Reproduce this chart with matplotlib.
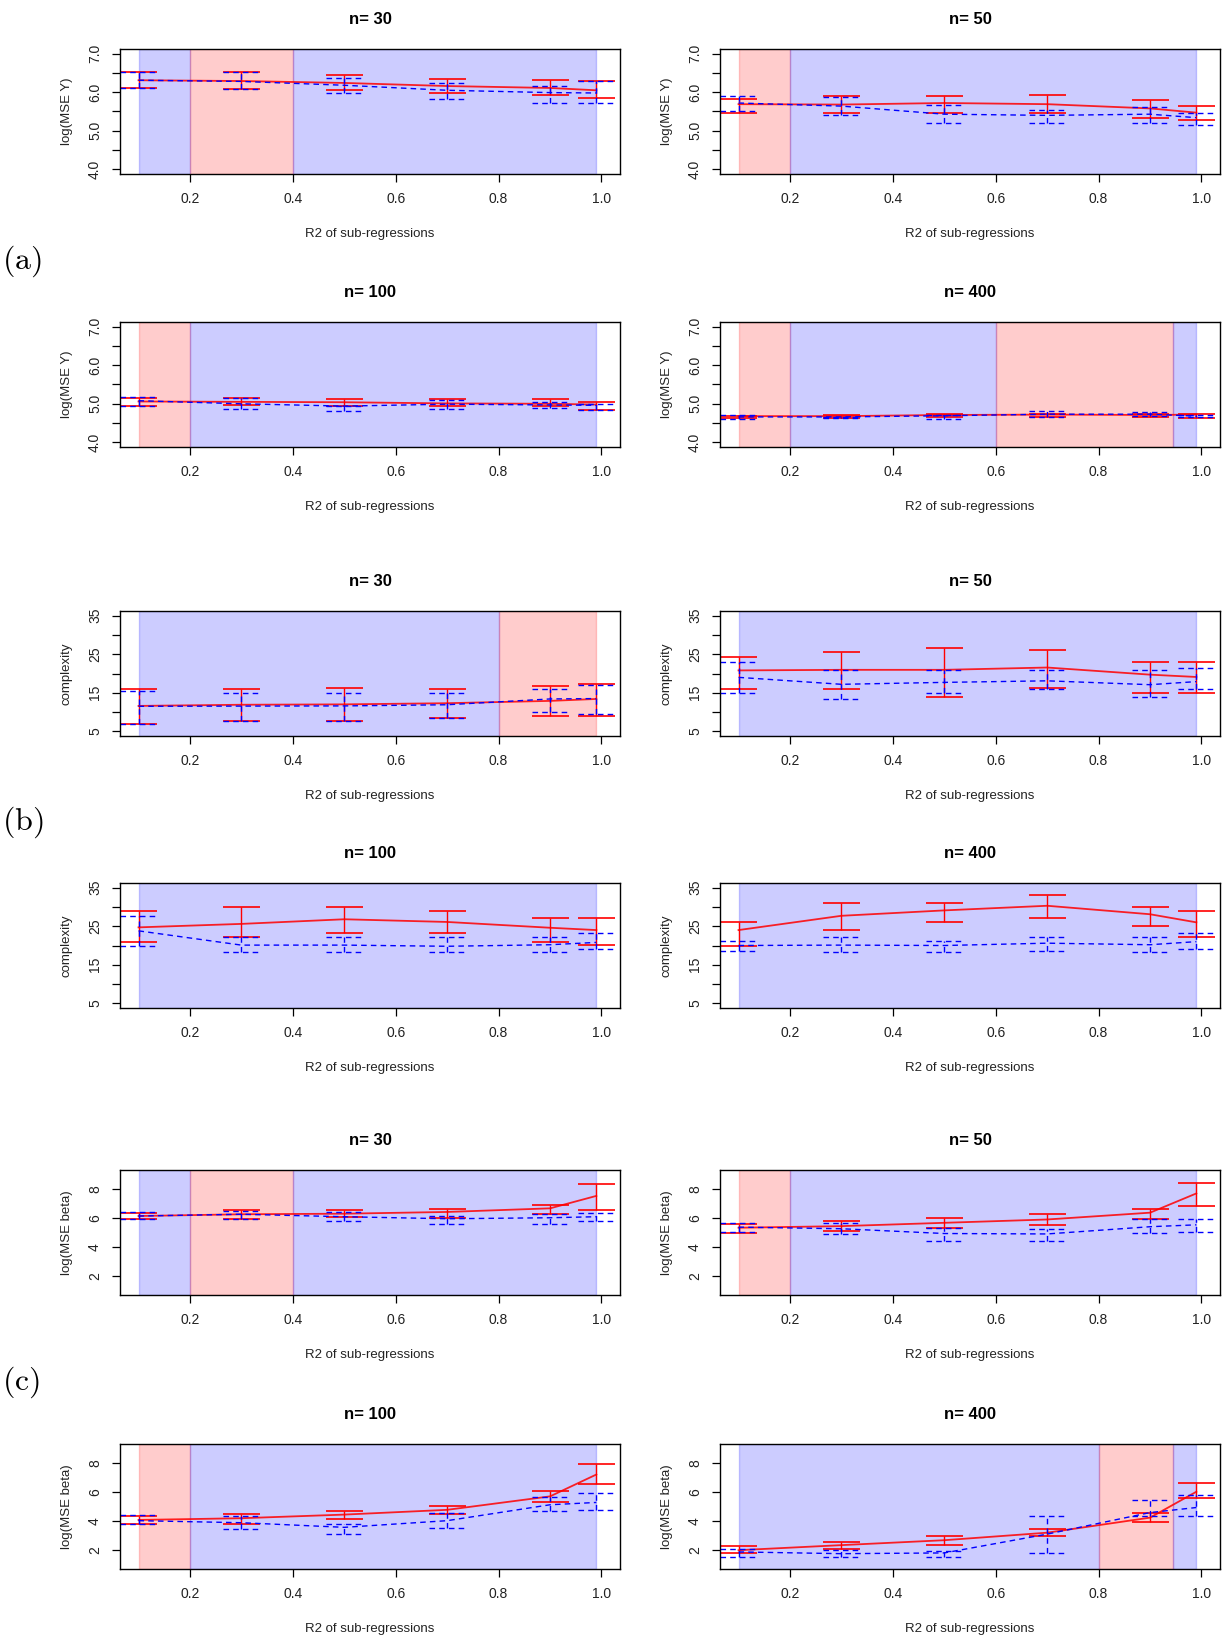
import matplotlib
matplotlib.use("Agg")
import matplotlib.pyplot as plt

plt.rcParams['font.family'] = ['Liberation Sans', 'DejaVu Sans']
plt.rcParams['mathtext.fontset'] = 'cm'

# R2 of sub-regressions where the simulations were run
r2 = [0.1, 0.3, 0.5, 0.7, 0.9, 0.99]
xticks = [0.2, 0.4, 0.6, 0.8, 1.0]
xlabels = ["0.2", "0.4", "0.6", "0.8", "1.0"]

# ---- (a) log(MSE Y) ----
a30_red = [6.31, 6.29, 6.24, 6.16, 6.11, 6.05]
a30_red_lo = [6.10, 6.09, 6.05, 5.97, 5.92, 5.84]
a30_red_hi = [6.53, 6.53, 6.45, 6.34, 6.31, 6.29]
a30_blue = [6.31, 6.28, 6.18, 6.05, 5.99, 5.98]
a30_blue_lo = [6.10, 6.09, 5.97, 5.82, 5.71, 5.73]
a30_blue_hi = [6.53, 6.53, 6.38, 6.25, 6.17, 6.28]
a30_shade = [(0.1, 0.2, "b"), (0.2, 0.4, "r"), (0.4, 0.99, "b")]

a50_red = [5.69, 5.68, 5.72, 5.69, 5.58, 5.47]
a50_red_lo = [5.47, 5.47, 5.47, 5.47, 5.33, 5.28]
a50_red_hi = [5.82, 5.90, 5.90, 5.93, 5.80, 5.64]
a50_blue = [5.72, 5.64, 5.43, 5.40, 5.43, 5.34]
a50_blue_lo = [5.50, 5.40, 5.19, 5.19, 5.19, 5.14]
a50_blue_hi = [5.91, 5.87, 5.66, 5.53, 5.61, 5.45]
a50_shade = [(0.1, 0.2, "r"), (0.2, 0.99, "b")]

a100_red = [5.06, 5.05, 5.04, 5.01, 5.00, 4.98]
a100_red_lo = [4.94, 4.97, 4.94, 4.94, 4.94, 4.85]
a100_red_hi = [5.16, 5.15, 5.13, 5.12, 5.13, 5.05]
a100_blue = [5.08, 5.00, 4.94, 4.99, 4.97, 4.96]
a100_blue_lo = [4.94, 4.87, 4.81, 4.87, 4.88, 4.85]
a100_blue_hi = [5.18, 5.15, 4.94, 5.11, 5.04, 4.99]
a100_shade = [(0.1, 0.2, "r"), (0.2, 0.99, "b")]

a400_red = [4.68, 4.68, 4.71, 4.72, 4.71, 4.72]
a400_red_lo = [4.62, 4.63, 4.66, 4.65, 4.65, 4.64]
a400_red_hi = [4.69, 4.70, 4.74, 4.74, 4.74, 4.73]
a400_blue = [4.66, 4.66, 4.69, 4.73, 4.73, 4.68]
a400_blue_lo = [4.61, 4.62, 4.61, 4.67, 4.68, 4.65]
a400_blue_hi = [4.71, 4.67, 4.70, 4.81, 4.79, 4.70]
a400_shade = [(0.1, 0.2, "r"), (0.2, 0.6, "b"), (0.6, 0.945, "r"), (0.945, 0.99, "b")]

# ---- (b) complexity ----
b30_red = [11.6, 11.9, 12.0, 12.3, 12.9, 13.4]
b30_red_lo = [6.8, 7.8, 7.8, 8.45, 8.9, 8.9]
b30_red_hi = [15.95, 15.95, 16.2, 15.95, 16.7, 17.2]
b30_blue = [11.5, 11.55, 11.6, 11.9, 13.4, 13.5]
b30_blue_lo = [6.8, 7.8, 7.8, 8.45, 10.0, 9.5]
b30_blue_hi = [15.5, 15.0, 15.0, 15.0, 16.0, 16.9]
b30_shade = [(0.1, 0.8, "b"), (0.8, 0.99, "r")]

b50_red = [20.8, 20.95, 20.95, 21.55, 19.7, 19.1]
b50_red_lo = [16.0, 16.0, 13.9, 16.2, 14.9, 14.9]
b50_red_hi = [24.4, 25.7, 26.7, 26.2, 22.9, 22.9]
b50_blue = [19.0, 17.2, 17.7, 18.1, 17.1, 17.9]
b50_blue_lo = [14.9, 13.4, 14.9, 15.95, 13.9, 16.0]
b50_blue_hi = [22.9, 20.95, 20.95, 20.95, 20.95, 21.3]
b50_shade = [(0.1, 0.99, "b")]

b100_red = [24.7, 25.6, 26.8, 26.1, 24.6, 24.0]
b100_red_lo = [21.0, 22.15, 23.2, 23.2, 21.0, 20.1]
b100_red_hi = [29.0, 30.0, 30.0, 29.0, 27.1, 27.1]
b100_blue = [23.8, 20.1, 20.1, 19.8, 20.2, 20.8]
b100_blue_lo = [20.0, 18.2, 18.2, 18.2, 18.2, 19.05]
b100_blue_hi = [27.7, 22.15, 22.15, 22.15, 22.15, 23.2]
b100_shade = [(0.1, 0.99, "b")]

b400_red = [24.0, 27.7, 29.1, 30.3, 28.1, 26.0]
b400_red_lo = [20.0, 24.0, 26.1, 27.1, 25.1, 22.15]
b400_red_hi = [26.1, 31.1, 31.1, 33.1, 30.1, 29.0]
b400_blue = [20.0, 20.1, 20.0, 20.6, 20.2, 21.0]
b400_blue_lo = [18.6, 18.2, 18.2, 18.6, 18.2, 19.05]
b400_blue_hi = [21.1, 22.15, 21.1, 22.15, 22.15, 23.2]
b400_shade = [(0.1, 0.99, "b")]

# ---- (c) log(MSE beta) ----
c30_red = [6.14, 6.26, 6.30, 6.42, 6.67, 7.53]
c30_red_lo = [5.95, 5.95, 6.05, 6.02, 6.30, 6.53]
c30_red_hi = [6.37, 6.53, 6.53, 6.60, 6.93, 8.35]
c30_blue = [6.14, 6.26, 6.09, 5.95, 6.02, 6.09]
c30_blue_lo = [5.95, 5.95, 5.79, 5.60, 5.60, 5.79]
c30_blue_hi = [6.42, 6.49, 6.40, 6.14, 6.30, 6.37]
c30_shade = [(0.1, 0.2, "b"), (0.2, 0.4, "r"), (0.4, 0.99, "b")]

c50_red = [5.33, 5.44, 5.67, 5.90, 6.37, 7.70]
c50_red_lo = [4.95, 5.09, 5.33, 5.53, 5.95, 6.81]
c50_red_hi = [5.60, 5.79, 6.02, 6.30, 6.60, 8.44]
c50_blue = [5.37, 5.26, 4.93, 4.90, 5.40, 5.53]
c50_blue_lo = [5.05, 4.88, 4.40, 4.44, 4.95, 5.05]
c50_blue_hi = [5.65, 5.67, 5.33, 5.26, 5.95, 5.95]
c50_shade = [(0.1, 0.2, "r"), (0.2, 0.99, "b")]

c100_red = [4.07, 4.19, 4.44, 4.77, 5.70, 7.21]
c100_red_lo = [3.77, 3.81, 4.14, 4.49, 5.33, 6.56]
c100_red_hi = [4.37, 4.49, 4.70, 5.05, 6.07, 7.95]
c100_blue = [4.02, 3.88, 3.56, 4.02, 5.12, 5.28]
c100_blue_lo = [3.77, 3.42, 3.07, 3.49, 4.67, 4.74]
c100_blue_hi = [4.42, 4.35, 3.77, 4.58, 5.65, 5.91]
c100_shade = [(0.1, 0.2, "r"), (0.2, 0.99, "b")]

c400_red = [1.98, 2.33, 2.67, 3.19, 4.23, 6.02]
c400_red_lo = [1.79, 2.05, 2.37, 2.93, 3.91, 5.56]
c400_red_hi = [2.28, 2.56, 2.93, 3.47, 4.58, 6.60]
c400_blue = [1.86, 1.74, 1.79, 3.09, 4.58, 4.93]
c400_blue_lo = [1.51, 1.51, 1.51, 1.79, 4.35, 4.35]
c400_blue_hi = [2.09, 1.98, 1.91, 4.35, 5.42, 5.79]
c400_shade = [(0.1, 0.8, "b"), (0.8, 0.945, "r"), (0.945, 0.99, "b")]

panels = [
    ("n= 30", "log(MSE Y)", "a", a30_red, a30_red_lo, a30_red_hi, a30_blue, a30_blue_lo, a30_blue_hi, a30_shade),
    ("n= 50", "log(MSE Y)", "a", a50_red, a50_red_lo, a50_red_hi, a50_blue, a50_blue_lo, a50_blue_hi, a50_shade),
    ("n= 100", "log(MSE Y)", "a", a100_red, a100_red_lo, a100_red_hi, a100_blue, a100_blue_lo, a100_blue_hi, a100_shade),
    ("n= 400", "log(MSE Y)", "a", a400_red, a400_red_lo, a400_red_hi, a400_blue, a400_blue_lo, a400_blue_hi, a400_shade),
    ("n= 30", "complexity", "b", b30_red, b30_red_lo, b30_red_hi, b30_blue, b30_blue_lo, b30_blue_hi, b30_shade),
    ("n= 50", "complexity", "b", b50_red, b50_red_lo, b50_red_hi, b50_blue, b50_blue_lo, b50_blue_hi, b50_shade),
    ("n= 100", "complexity", "b", b100_red, b100_red_lo, b100_red_hi, b100_blue, b100_blue_lo, b100_blue_hi, b100_shade),
    ("n= 400", "complexity", "b", b400_red, b400_red_lo, b400_red_hi, b400_blue, b400_blue_lo, b400_blue_hi, b400_shade),
    ("n= 30", "log(MSE beta)", "c", c30_red, c30_red_lo, c30_red_hi, c30_blue, c30_blue_lo, c30_blue_hi, c30_shade),
    ("n= 50", "log(MSE beta)", "c", c50_red, c50_red_lo, c50_red_hi, c50_blue, c50_blue_lo, c50_blue_hi, c50_shade),
    ("n= 100", "log(MSE beta)", "c", c100_red, c100_red_lo, c100_red_hi, c100_blue, c100_blue_lo, c100_blue_hi, c100_shade),
    ("n= 400", "log(MSE beta)", "c", c400_red, c400_red_lo, c400_red_hi, c400_blue, c400_blue_lo, c400_blue_hi, c400_shade),
]

# y axis per block: limits, ticks, labels (R leaves every other one unlabelled)
ylims = {"a": (3.88, 7.12), "b": (3.8, 36.2), "c": (0.68, 9.32)}
yticks = {"a": [4.0, 4.5, 5.0, 5.5, 6.0, 6.5, 7.0],
          "b": [5, 10, 15, 20, 25, 30, 35],
          "c": [2, 4, 6, 8]}
ytlabels = {"a": ["4.0", "", "5.0", "", "6.0", "", "7.0"],
            "b": ["5", "", "15", "", "25", "", "35"],
            "c": ["2", "4", "6", "8"]}

W, H = 1223, 1638
col_x = [(120, 500), (720, 500)]
row_y = [49, 322, 611, 883, 1170, 1444]
box_h = 125
cap = 0.036
shade_col = {"b": (0, 0, 1), "r": (1, 0, 0)}
dash = (0, (4, 3))

fig = plt.figure(figsize=(W / 100, H / 100), dpi=100)

for i, (title, ylab, blk, rm, rlo, rhi, bm, blo, bhi, shade) in enumerate(panels):
    row, col = i // 2, i % 2
    x0, w = col_x[col]
    top = row_y[row]
    ax = fig.add_axes([x0 / W, 1 - (top + box_h) / H, w / W, box_h / H])

    for s0, s1, c in shade:
        ax.axvspan(s0, s1, facecolor=shade_col[c], alpha=0.2,
                   edgecolor=shade_col[c], lw=1)

    left = [v - cap for v in r2]
    right = [v + cap for v in r2]

    # red: solid error bars and mean line
    ax.vlines(r2, rlo, rhi, colors="red", lw=1)
    ax.hlines(rlo, left, right, colors="red", lw=1.2)
    ax.hlines(rhi, left, right, colors="red", lw=1.2)
    ax.plot(r2, rm, color="red", lw=1.3, alpha=0.85)

    # blue: dashed error bars and mean line
    ax.vlines(r2, blo, bhi, colors="blue", lw=1, linestyles=dash)
    ax.hlines(blo, left, right, colors="blue", lw=1, linestyles=dash)
    ax.hlines(bhi, left, right, colors="blue", lw=1, linestyles=dash)
    ax.plot(r2, bm, color="blue", lw=1, ls=dash)

    ax.set_xlim(0.064, 1.036)
    ax.set_ylim(*ylims[blk])
    ax.set_xticks(xticks)
    ax.set_xticklabels(xlabels, fontsize=10, color="#222222")
    ax.set_yticks(yticks[blk])
    ax.set_yticklabels(ytlabels[blk], fontsize=10, rotation=90, va="center", color="#222222")
    ax.tick_params(length=6, width=0.9, pad=7)
    for sp in ax.spines.values():
        sp.set_linewidth(1)
    ax.set_title(title, fontsize=12, fontweight="bold", pad=18)
    ax.set_xlabel("R2 of sub-regressions", fontsize=9.5, labelpad=16, color="#222222")
    ax.set_ylabel(ylab, fontsize=9.5, labelpad=11, color="#222222")

# block labels in Computer Modern
for lab, ypix in [("(a)", 261), ("(b)", 822), ("(c)", 1382)]:
    fig.text(0.002, 1 - ypix / H, r"$\mathrm{" + lab + "}$", fontsize=23, va="center", ha="left")

fig.savefig("out.png", dpi=100)
